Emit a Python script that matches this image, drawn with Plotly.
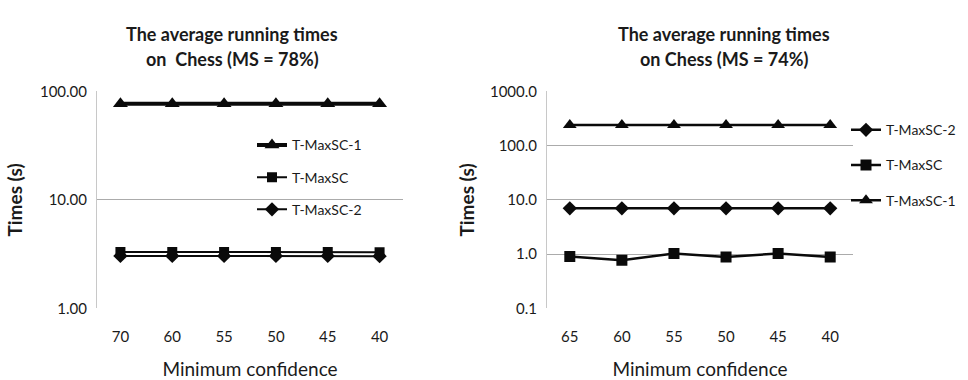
import plotly.graph_objects as go

# ---- data ----
left_conf = ["70", "60", "55", "50", "45", "40"]
left_tmaxsc1 = [77, 77, 77, 77, 77, 77]
left_tmaxsc = [3.32, 3.32, 3.32, 3.32, 3.32, 3.30]
left_tmaxsc2 = [3.05, 3.05, 3.05, 3.05, 3.05, 3.03]

right_conf = ["65", "60", "55", "50", "45", "40"]
right_tmaxsc2 = [7.0, 7.0, 7.0, 7.0, 7.0, 7.0]
right_tmaxsc = [0.91, 0.77, 1.03, 0.89, 1.03, 0.89]
right_tmaxsc1 = [240, 240, 240, 240, 240, 240]

left_ticks = [1, 10, 100]
left_ticktext = ["1.00", "10.00", "100.00"]
right_ticks = [0.1, 1, 10, 100, 1000]
right_ticktext = ["0.1", "1.0", "10.0", "100.0", "1000.0"]

left_title = ["The average running times", "on  Chess (MS = 78%)"]
right_title = ["The average running times", "on Chess (MS = 74%)"]

FONT = "Lato"
W, H = 968, 380
INK = "#0a0a0a"
TXT = "#1a1a1a"
GRID = "#ababab"

fig = go.Figure()

# left panel traces (legend order: T-MaxSC-1, T-MaxSC, T-MaxSC-2)
fig.add_trace(go.Scatter(x=left_conf, y=left_tmaxsc1, name="T-MaxSC-1", mode="lines+markers",
                         line=dict(color=INK, width=4), marker=dict(symbol="triangle-up", size=13, color=INK),
                         xaxis="x", yaxis="y", legend="legend", legendgroup="a1"))
fig.add_trace(go.Scatter(x=left_conf, y=left_tmaxsc, name="T-MaxSC", mode="lines+markers",
                         line=dict(color=INK, width=2), marker=dict(symbol="square", size=10, color=INK),
                         xaxis="x", yaxis="y", legend="legend", legendgroup="a2"))
fig.add_trace(go.Scatter(x=left_conf, y=left_tmaxsc2, name="T-MaxSC-2", mode="lines+markers",
                         line=dict(color=INK, width=2), marker=dict(symbol="diamond", size=11, color=INK),
                         xaxis="x", yaxis="y", legend="legend", legendgroup="a3"))

# right panel traces (legend order: T-MaxSC-2, T-MaxSC, T-MaxSC-1)
fig.add_trace(go.Scatter(x=right_conf, y=right_tmaxsc2, name="T-MaxSC-2", mode="lines+markers",
                         line=dict(color=INK, width=2.5), marker=dict(symbol="diamond", size=11, color=INK),
                         xaxis="x2", yaxis="y2", legend="legend2", legendgroup="b1"))
fig.add_trace(go.Scatter(x=right_conf, y=right_tmaxsc, name="T-MaxSC", mode="lines+markers",
                         line=dict(color=INK, width=2.5), marker=dict(symbol="square", size=11, color=INK),
                         xaxis="x2", yaxis="y2", legend="legend2", legendgroup="b2"))
fig.add_trace(go.Scatter(x=right_conf, y=right_tmaxsc1, name="T-MaxSC-1", mode="lines+markers",
                         line=dict(color=INK, width=2.5), marker=dict(symbol="triangle-up", size=12, color=INK),
                         xaxis="x2", yaxis="y2", legend="legend2", legendgroup="b3"))

y_dom = [1 - 315 / H, 1 - 86 / H]

common_x = dict(type="category", showgrid=False, zeroline=False, showline=False,
                ticks="outside", ticklen=15, tickcolor="rgba(0,0,0,0)",
                tickfont=dict(family=FONT, size=15, color=TXT))
common_y = dict(type="log", showgrid=True, gridcolor=GRID, gridwidth=1, zeroline=False,
                showline=True, linecolor="#c8c8c8", linewidth=1,
                ticks="outside", ticklen=6, tickcolor="rgba(0,0,0,0)",
                tickfont=dict(family=FONT, size=15, color=TXT))

title_font = dict(family=FONT, size=19, color=TXT)
ann = []
for cx, lines in ((232, left_title), (724, right_title)):
    for i, line in enumerate(lines):
        ann.append(dict(text="<b>" + line + "</b>", x=cx / W, y=1 - (25 + 27 * i) / H,
                        xref="paper", yref="paper", xanchor="center", yanchor="middle",
                        showarrow=False, font=dict(family=FONT, size=18, color=TXT)))

fig.update_layout(
    width=W, height=H,
    margin=dict(l=0, r=0, t=0, b=0),
    paper_bgcolor="white", plot_bgcolor="white",
    font=dict(family=FONT, color=TXT),
    xaxis=dict(domain=[97 / W, 403 / W], anchor="y",
               title=dict(text="Minimum confidence", font=title_font, standoff=21),
               **common_x),
    yaxis=dict(domain=y_dom, anchor="x", range=[0, 2],
               tickvals=left_ticks, ticktext=left_ticktext,
               title=dict(text="<b>Times (s)</b>", font=title_font, standoff=12),
               **common_y),
    xaxis2=dict(domain=[547 / W, 853 / W], anchor="y2",
                title=dict(text="Minimum confidence", font=title_font, standoff=18),
                **common_x),
    yaxis2=dict(domain=y_dom, anchor="x2", range=[-1, 3],
                tickvals=right_ticks, ticktext=right_ticktext,
                title=dict(text="<b>Times (s)</b>", font=title_font, standoff=10),
                **common_y),
    legend=dict(x=252 / W, y=1 - 126 / H, xanchor="left", yanchor="top",
                bgcolor="rgba(0,0,0,0)", font=dict(family=FONT, size=14, color=TXT),
                tracegroupgap=11, traceorder="grouped", itemwidth=30),
    legend2=dict(x=846 / W, y=1 - 110 / H, xanchor="left", yanchor="top",
                 bgcolor="rgba(0,0,0,0)", font=dict(family=FONT, size=14, color=TXT),
                 tracegroupgap=14, traceorder="grouped", itemwidth=30),
    showlegend=True,
    annotations=ann,
)

fig.write_html("out.html")
